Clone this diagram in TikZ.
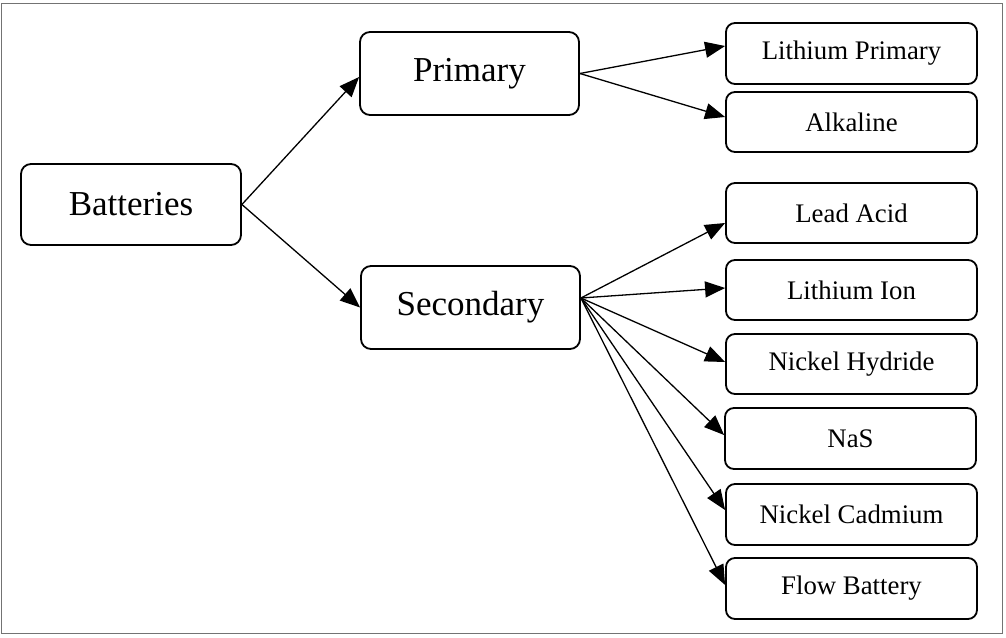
\documentclass[tikz,border=0pt]{standalone}
\usepackage{fontspec}
\setmainfont{Liberation Serif}
\usetikzlibrary{arrows.meta}

\tikzset{
  bigbox/.style={draw, line width=1.8pt, rounded corners=10pt, inner sep=0pt,
    font=\fontsize{35}{40}\selectfont},
  leafbox/.style={draw, line width=1.8pt, rounded corners=9pt, inner sep=0pt,
    minimum width=251pt, minimum height=60pt, font=\fontsize{26.8}{31}\selectfont},
  link/.style={line width=1.3pt, -{Triangle[length=20pt,width=16pt]}},
}

\begin{document}
\begin{tikzpicture}[x=1pt, y=-1pt]
\useasboundingbox (0,0) rectangle (1006,637);
% outer frame
\draw[line width=1pt, black!55] (1,3) rectangle (1002,633);

% root and categories
\node[bigbox, minimum width=220pt, minimum height=81pt] (bat) at (131,204.5) {Batteries};
\node[bigbox, minimum width=219pt, minimum height=83pt] (prim) at (469.5,73.5) {Primary};
\node[bigbox, minimum width=219pt, minimum height=83pt] (sec) at (470.5,307.5) {Secondary};

% battery types
\node[leafbox, minimum height=61pt] (lp) at (851.5,53.5) {Lithium Primary};
\node[leafbox] (alk) at (851.5,122) {Alkaline};
\node[leafbox] (lead) at (851.5,213) {Lead Acid};
\node[leafbox] (liion) at (851.5,290) {Lithium Ion};
\node[leafbox] (nih) at (851.5,364) {Nickel Hydride};
\node[leafbox, minimum height=61pt] (nas) at (850.5,438.5) {NaS};
\node[leafbox, minimum height=61pt] (nicd) at (851.5,514.5) {Nickel Cadmium};
\node[leafbox, minimum height=61pt] (flow) at (851.5,588.5) {Flow Battery};

% connectors
\draw[link] (bat.east) -- ([yshift=-3.5pt]prim.west);
\draw[link] (bat.east) -- (sec.west);

\draw[link] (prim.east) -- ([yshift=7.5pt]lp.west);
\draw[link] (prim.east) -- ([yshift=5pt]alk.west);

\coordinate (s0) at ([yshift=9.5pt]sec.east);
\draw[link] (s0) -- ([yshift=-10pt]lead.west);
\draw[link] (s0) -- ([yshift=2pt]liion.west);
\draw[link] (s0) -- ([yshift=2pt]nih.west);
\draw[link] (s0) -- ([yshift=3.5pt]nas.west);
\draw[link] (s0) -- ([yshift=4.5pt]nicd.west);
\draw[link] (s0) -- ([yshift=3.5pt]flow.west);
\end{tikzpicture}
\end{document}
